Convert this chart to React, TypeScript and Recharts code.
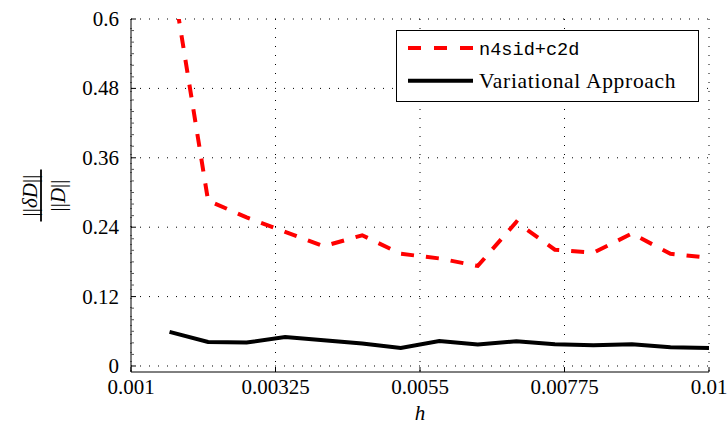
import React from 'react';
import { LineChart, Line, XAxis, YAxis, CartesianGrid, Legend } from 'recharts';

const hValues = [0.0016, 0.0022, 0.0028, 0.0034, 0.004, 0.0046, 0.0052, 0.0058, 0.0064, 0.007, 0.0076, 0.0082, 0.0088, 0.0094, 0.01];
const n4sidValues = [0.70, 0.286, 0.257, 0.232, 0.207, 0.226, 0.194, 0.186, 0.173, 0.249, 0.201, 0.196, 0.229, 0.194, 0.187];
const variationalValues = [0.059, 0.0415, 0.0405, 0.05, 0.0444, 0.0387, 0.031, 0.0432, 0.037, 0.0427, 0.0375, 0.0358, 0.0375, 0.0323, 0.031];

const seriesKeys = ['n4sid', 'variational'];
const seriesNames = ['n4sid+c2d', 'Variational Approach'];

const xTicks = [0.001, 0.00325, 0.0055, 0.00775, 0.01];
const xTickLabels = ['0.001', '0.00325', '0.0055', '0.00775', '0.01'];
const yTicks = [0, 0.12, 0.24, 0.36, 0.48, 0.6];
const yTickLabels = ['0', '0.12', '0.24', '0.36', '0.48', '0.6'];
const yMinorTicks = [0.02, 0.04, 0.06, 0.08, 0.1, 0.14, 0.16, 0.18, 0.2, 0.22, 0.26, 0.28, 0.3, 0.32, 0.34, 0.38, 0.4, 0.42, 0.44, 0.46, 0.5, 0.52, 0.54, 0.56, 0.58];

const data = hValues.map((h, i) => ({ h, n4sid: n4sidValues[i], variational: variationalValues[i] }));
const allYTicks = [...yTicks, ...yMinorTicks].sort((a, b) => a - b);

const SERIF = "'Liberation Serif', 'DejaVu Serif', serif";
const MONO = "'Liberation Mono', 'DejaVu Sans Mono', monospace";
const serifStyle: React.CSSProperties = { fontFamily: SERIF };
const monoStyle: React.CSSProperties = { fontFamily: MONO };

const findIndex = (arr: number[], v: number) => arr.findIndex((t) => Math.abs(t - v) < 1e-9);

const XTick = (props: any) => {
  const { x, y, payload } = props;
  const i = findIndex(xTicks, payload.value);
  return (
    <g>
      <line x1={x} y1={y} x2={x} y2={y - 5} stroke="#000" strokeWidth={1} />
      <text x={x} y={y + 22} textAnchor="middle" style={serifStyle} fontSize={21} fill="#000">
        {i >= 0 ? xTickLabels[i] : ''}
      </text>
    </g>
  );
};

const YTick = (props: any) => {
  const { x, y, payload } = props;
  const i = findIndex(yTicks, payload.value);
  if (i < 0) {
    return <line x1={x} y1={y} x2={x + 3} y2={y} stroke="#555" strokeWidth={1} />;
  }
  return (
    <g>
      <line x1={x} y1={y} x2={x + 5} y2={y} stroke="#000" strokeWidth={1} />
      <text x={x - 12} y={y + 7} textAnchor="end" style={serifStyle} fontSize={21} fill="#000">
        {yTickLabels[i]}
      </text>
    </g>
  );
};

const YLabel = (props: any) => {
  const vb = props.viewBox || { x: 31, y: 19, width: 100, height: 353 };
  const cx = vb.x + 10;
  const cy = vb.y + vb.height / 2;
  return (
    <g transform={`rotate(-90, ${cx}, ${cy})`}>
      <text x={cx} y={cy - 4} textAnchor="middle" style={serifStyle} fontSize={21} fill="#000">
        <tspan>||</tspan>
        <tspan fontStyle="italic">δD</tspan>
        <tspan>||</tspan>
      </text>
      <line x1={cx - 26} y1={cy} x2={cx + 26} y2={cy} stroke="#000" strokeWidth={1.8} />
      <text x={cx} y={cy + 24} textAnchor="middle" style={serifStyle} fontSize={21} fill="#000">
        <tspan>||</tspan>
        <tspan fontStyle="italic">D</tspan>
        <tspan>||</tspan>
      </text>
    </g>
  );
};

const XLabel = (props: any) => {
  const vb = props.viewBox || { x: 131, y: 372, width: 578, height: 30 };
  const cx = vb.x + vb.width / 2;
  return (
    <text x={cx} y={420} textAnchor="middle" style={serifStyle} fontStyle="italic" fontSize={21} fill="#000">
      h
    </text>
  );
};

const LegendBox = (props: any) => {
  const payload = (props.payload || []).slice().sort(
    (a: any, b: any) => seriesKeys.indexOf(a.dataKey) - seriesKeys.indexOf(b.dataKey)
  );
  return (
    <svg width={303} height={72} style={{ display: 'block' }}>
      <rect x={0.5} y={0.5} width={302} height={71} fill="#fff" stroke="#000" strokeWidth={1} />
      {payload.map((entry: any, i: number) => {
        const cy = 18 + i * 32.7;
        const isMono = entry.dataKey === 'n4sid';
        return (
          <g key={i}>
            <line x1={12} y1={cy} x2={77} y2={cy} stroke={entry.color} strokeWidth={4} strokeDasharray={isMono ? '13 13' : undefined} />
            <text
              x={83}
              y={cy + 7}
              style={isMono ? monoStyle : { ...serifStyle, letterSpacing: '0.7px' }}
              fontSize={isMono ? 18.6 : 21.5}
              fill="#000"
            >
              {entry.value}
            </text>
          </g>
        );
      })}
    </svg>
  );
};

export default function App() {
  return (
    <div>
      <style>{'body{margin:0}'}</style>
      <LineChart width={728} height={426} data={data} margin={{ top: 19, right: 19, bottom: 24, left: 31 }}>
        <CartesianGrid
          stroke="#000"
          strokeDasharray="1 8"
          strokeWidth={1}
          horizontalValues={yTicks}
          verticalValues={xTicks}
        />
        <XAxis
          dataKey="h"
          type="number"
          domain={[0.001, 0.01]}
          ticks={xTicks}
          interval={0}
          height={30}
          tickSize={0}
          tickMargin={0}
          tickLine={false}
          axisLine={{ stroke: '#000', strokeWidth: 1 }}
          tick={<XTick />}
          allowDataOverflow
          label={<XLabel />}
        />
        <YAxis
          type="number"
          domain={[-0.0104, 0.6]}
          ticks={allYTicks}
          interval={0}
          width={100}
          tickSize={0}
          tickMargin={0}
          tickLine={false}
          axisLine={{ stroke: '#000', strokeWidth: 1 }}
          tick={<YTick />}
          allowDataOverflow
          label={<YLabel />}
        />
        <Legend
          layout="vertical"
          align="center"
          verticalAlign="middle"
          wrapperStyle={{ position: 'absolute', left: 396, top: 30, width: 303, height: 72 }}
          content={<LegendBox />}
        />
        <Line
          type="linear"
          dataKey={seriesKeys[0]}
          name={seriesNames[0]}
          stroke="#ff0000"
          strokeWidth={4}
          strokeDasharray="13 12"
          dot={false}
          activeDot={false}
          isAnimationActive={false}
        />
        <Line
          type="linear"
          dataKey={seriesKeys[1]}
          name={seriesNames[1]}
          stroke="#000"
          strokeWidth={4}
          dot={false}
          activeDot={false}
          isAnimationActive={false}
        />
      </LineChart>
    </div>
  );
}
